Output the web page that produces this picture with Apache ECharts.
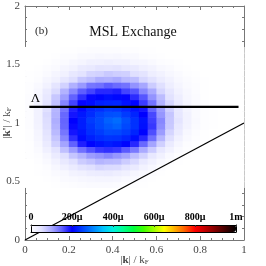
<!DOCTYPE html>
<html><head><meta charset="utf-8">
<script src="https://cdn.jsdelivr.net/npm/echarts@6/dist/echarts.min.js"></script>
<style>html,body{margin:0;padding:0;background:#fff}#c{width:266px;height:266px}</style>
</head><body><div id="c"></div>
<script>
// Heatmap grid: column centres (|k|/kF) and row centres (|k'|/kF)
var xCenters = [0.02,0.06,0.10,0.14,0.18,0.22,0.26,0.30,0.34,0.38,0.42,0.46,0.50,0.54,0.58,0.62,0.66,0.70,0.74,0.78,0.82,0.86,0.90,0.94,0.98];
var yCenters = [0.475,0.525,0.575,0.625,0.675,0.725,0.775,0.825,0.875,0.925,0.975,1.025,1.075,1.125,1.175,1.225,1.275,1.325,1.375,1.425,1.475,1.525,1.575,1.625];
var cellW = 0.04, cellH = 0.05;
// values in micro-units (1e-6), rows from bottom (y=0.475) to top (y=1.625)
var zRows = [
[0,0,0,2,3,5,7,8,9,8,7,5,3,1,0,0,0,0,0,0,0,0,0,0,0],
[0,0,1,4,8,10,14,16,18,17,15,11,8,4,2,0,0,0,0,0,0,0,0,0,0],
[0,1,3,8,12,20,24,31,33,35,29,25,16,11,5,2,0,0,0,0,0,0,0,0,0],
[0,2,6,13,24,34,46,52,60,56,55,44,36,22,13,6,2,0,0,0,0,0,0,0,0],
[0,3,11,22,38,52,70,78,90,86,84,70,58,38,25,12,5,2,0,0,0,0,0,0,0],
[1,6,16,34,52,76,92,110,116,124,114,104,82,64,40,24,11,4,1,0,0,0,0,0,0],
[1,8,26,48,80,110,140,158,172,176,172,154,134,100,70,40,22,9,3,1,0,0,0,0,0],
[2,12,34,66,104,150,184,204,214,222,216,204,180,146,104,66,34,16,6,2,0,0,0,0,0],
[3,15,42,76,124,176,208,224,234,240,238,228,210,180,140,90,52,24,10,4,1,0,0,0,0],
[4,18,46,86,136,190,216,236,246,258,256,246,228,202,160,110,62,34,14,6,2,0,0,0,0],
[5,21,52,92,146,196,222,240,256,268,276,256,238,212,172,120,72,40,20,8,3,1,0,0,0],
[6,23,54,96,148,200,222,246,258,276,284,262,238,214,168,124,74,46,22,10,3,1,0,0,0],
[6,22,56,92,146,190,218,234,252,262,264,246,228,200,164,114,76,42,22,9,3,1,0,0,0],
[6,23,52,90,136,184,206,228,236,246,242,230,214,190,148,108,66,40,19,9,3,1,0,0,0],
[6,20,50,80,126,166,198,210,224,228,230,214,202,170,138,92,60,34,18,7,3,0,0,0,0],
[5,18,40,74,108,150,176,196,204,212,206,198,178,156,116,84,50,30,14,7,2,0,0,0,0],
[4,13,34,56,92,122,152,166,180,180,184,166,156,124,100,62,42,22,12,5,2,0,0,0,0],
[3,10,22,44,64,94,112,136,140,152,144,138,116,102,70,52,30,18,9,5,1,0,0,0,0],
[2,6,15,24,42,54,74,82,96,94,100,86,82,60,50,32,22,12,7,3,1,0,0,0,0],
[1,3,8,17,24,40,48,62,64,72,68,66,52,46,30,23,13,8,4,2,0,0,0,0,0],
[0,1,5,8,17,22,34,38,46,44,48,40,36,26,21,12,8,3,2,0,0,0,0,0,0],
[0,0,2,5,8,14,18,24,24,28,25,25,18,16,10,6,3,1,0,0,0,0,0,0,0],
[0,0,0,2,5,6,10,11,14,12,14,10,10,6,4,2,0,0,0,0,0,0,0,0,0],
[0,0,0,0,2,2,4,5,5,6,5,4,3,2,1,0,0,0,0,0,0,0,0,0,0]
];
var lambdaValue = 1.137;
var lambdaLine = [[0.02, lambdaValue], [0.975, lambdaValue]];
var diagLine = [[0, 0], [1, 1]];
var cbLabels = ['0', '200\u03bc', '400\u03bc', '600\u03bc', '800\u03bc', '1m'];
var cbColors = ['#ffffff','#e2e2ff','#aaaaff','#6262ff','#0000ff','#0040ff','#0080ff','#00c0ff','#00f0e0','#00ff90','#00ff40','#40ff00','#a0ff00','#ffff00','#ffb000','#ff6000','#ff0000','#c00000','#800000','#400000','#000000'];

var heatData = [];
for (var r = 0; r < yCenters.length; r++)
  for (var c = 0; c < xCenters.length; c++)
    heatData.push([xCenters[c], yCenters[r], zRows[r][c]]);

var SERIF = 'Liberation Serif';
var chart = echarts.init(document.getElementById('c'), null, {renderer: 'canvas'});
var axisCol = '#777';
var baseAxis = {
  nameMoveOverlap: false,
  axisLine: {show: true, onZero: false, lineStyle: {color: axisCol, width: 1}},
  axisTick: {show: true, inside: true, length: 4, lineStyle: {color: axisCol}},
  minorTick: {show: true, length: 2, lineStyle: {color: axisCol}},
  splitLine: {show: false},
  axisLabel: {show: true, color: '#444', fontFamily: SERIF, fontSize: 11, margin: 5}
};
function ax(extra) { return echarts.util.merge(echarts.util.clone(baseAxis), extra, true); }
var cbAxis = {
  gridIndex: 1, min: 0, max: 1000, interval: 200, z: 10,
  axisLine: {show: true, onZero: false, lineStyle: {color: '#000', width: 1}},
  axisTick: {show: false}, minorTick: {show: false}, splitLine: {show: false}, axisLabel: {show: false}
};
var nameRich = {
  n: {fontFamily: SERIF, fontSize: 11, color: '#444'},
  b: {fontFamily: SERIF, fontSize: 11, fontWeight: 'bold', color: '#444'},
  s: {fontFamily: SERIF, fontSize: 7, color: '#444', verticalAlign: 'bottom', padding: [5, 0, 0, 0]}
};

chart.setOption({
  animation: false,
  backgroundColor: '#fff',
  title: {text: 'MSL Exchange', left: 'center', top: 20,
    textStyle: {fontFamily: SERIF, fontSize: 14, fontWeight: 'normal', color: '#111'}},
  graphic: [{type: 'text', left: 35, top: 26, z: 20, style: {text: '(b)', font: '11px "Liberation Serif"', fill: '#222'}}],
  grid: [
    {left: 25, top: 6, width: 219, height: 234, outerBoundsMode: 'none', containLabel: false},
    {left: 31, top: 225, width: 205, height: 7, z: 10, outerBoundsMode: 'none', containLabel: false}
  ],
  visualMap: {
    type: 'continuous', min: 0, max: 1000, seriesIndex: 0, dimension: 2,
    orient: 'horizontal', left: 31, top: 225, itemWidth: 7, itemHeight: 205,
    padding: 0, calculable: false, hoverLink: false, text: null, showLabel: false,
    inRange: {color: cbColors}, z: 6
  },
  xAxis: [
    ax({type: 'value', gridIndex: 0, min: 0, max: 1, interval: 0.2, minorTick: {splitNumber: 4},
      name: '{n||}{b|k}{n|| / k}{s|F}', nameLocation: 'middle', nameGap: 14,
      nameTextStyle: {rich: nameRich}}),
    ax({type: 'value', gridIndex: 0, min: 0, max: 1, interval: 0.2, position: 'top', minorTick: {splitNumber: 4}, axisLabel: {show: false}}),
    echarts.util.merge(echarts.util.clone(cbAxis), {position: 'top',
      axisTick: {show: true, inside: true, length: 2, lineStyle: {color: '#333'}},
      axisLabel: {show: true, margin: 3, fontFamily: SERIF, fontSize: 10, fontWeight: 'bold', color: '#000',
        formatter: function (v) { return cbLabels[Math.round(v / 200)]; }}}, true),
    echarts.util.merge(echarts.util.clone(cbAxis), {position: 'bottom'}, true)
  ],
  yAxis: [
    ax({type: 'value', gridIndex: 0, min: 0, max: 2, interval: 0.5, minorTick: {splitNumber: 5},
      name: "{n||}{b|k'}{n|| / k}{s|F}", nameLocation: 'middle', nameGap: 12, nameRotate: 90,
      nameTextStyle: {rich: nameRich}}),
    ax({type: 'value', gridIndex: 0, min: 0, max: 2, interval: 0.5, position: 'right', minorTick: {splitNumber: 5}, axisLabel: {show: false}}),
    echarts.util.merge(echarts.util.clone(cbAxis), {type: 'value', min: 0, max: 1, interval: 1, position: 'left'}, true),
    echarts.util.merge(echarts.util.clone(cbAxis), {type: 'value', min: 0, max: 1, interval: 1, position: 'right'}, true)
  ],
  series: [
    {type: 'custom', xAxisIndex: 0, yAxisIndex: 0, data: heatData, z: 1, silent: true,
      encode: {x: 0, y: 1},
      renderItem: function (params, api) {
        var x = api.value(0), y = api.value(1);
        var p0 = api.coord([x - cellW / 2, y + cellH / 2]);
        var p1 = api.coord([x + cellW / 2, y - cellH / 2]);
        return {type: 'rect', shape: {x: p0[0], y: p0[1], width: p1[0] - p0[0] + 0.6, height: p1[1] - p0[1] + 0.6},
          style: {fill: api.visual('color')}};
      }},
    {type: 'line', xAxisIndex: 0, yAxisIndex: 0, z: 3, silent: true, symbolSize: 0, showSymbol: true,
      lineStyle: {color: '#000', width: 2.2},
      data: [{value: lambdaLine[0], label: {show: true, formatter: '\u039b', position: 'top', distance: 2, offset: [6, 0],
        fontFamily: SERIF, fontSize: 13, color: '#000'}}, {value: lambdaLine[1]}]},
    {type: 'line', xAxisIndex: 0, yAxisIndex: 0, z: 3, silent: true, symbol: 'none',
      lineStyle: {color: '#000', width: 1.2}, data: diagLine}
  ]
});
</script></body></html>
